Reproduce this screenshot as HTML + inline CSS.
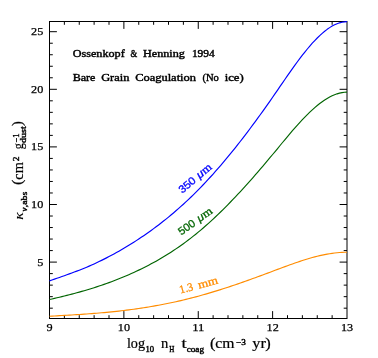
<!DOCTYPE html>
<html><head><meta charset="utf-8"><title>Ossenkopf &amp; Henning 1994 opacities</title>
<style>html,body{margin:0;padding:0;background:#fff;}svg{display:block;will-change:transform;}text{font-family:"Liberation Serif",serif;fill:#000;}.sans{font-family:"Liberation Sans",sans-serif;}</style></head><body>
<svg width="378" height="358" viewBox="0 0 378 358">
<rect x="0" y="0" width="378" height="358" fill="#ffffff"/>
<g stroke="#000" stroke-width="1" fill="none" stroke-linecap="butt">
<rect x="49.50" y="21.50" width="297.50" height="297.00"/>
<path d="M64.37,318.50v-3.30M64.37,21.50v3.30M79.25,318.50v-3.30M79.25,21.50v3.30M94.12,318.50v-3.30M94.12,21.50v3.30M109.00,318.50v-3.30M109.00,21.50v3.30M123.88,318.50v-7.40M123.88,21.50v7.40M138.75,318.50v-3.30M138.75,21.50v3.30M153.63,318.50v-3.30M153.63,21.50v3.30M168.50,318.50v-3.30M168.50,21.50v3.30M183.38,318.50v-3.30M183.38,21.50v3.30M198.25,318.50v-7.40M198.25,21.50v7.40M213.12,318.50v-3.30M213.12,21.50v3.30M228.00,318.50v-3.30M228.00,21.50v3.30M242.87,318.50v-3.30M242.87,21.50v3.30M257.75,318.50v-3.30M257.75,21.50v3.30M272.62,318.50v-7.40M272.62,21.50v7.40M287.50,318.50v-3.30M287.50,21.50v3.30M302.38,318.50v-3.30M302.38,21.50v3.30M317.25,318.50v-3.30M317.25,21.50v3.30M332.13,318.50v-3.30M332.13,21.50v3.30M49.50,308.18h3.30M347.00,308.18h-3.30M49.50,296.66h3.30M347.00,296.66h-3.30M49.50,285.14h3.30M347.00,285.14h-3.30M49.50,273.62h3.30M347.00,273.62h-3.30M49.50,262.10h7.40M347.00,262.10h-7.40M49.50,250.58h3.30M347.00,250.58h-3.30M49.50,239.06h3.30M347.00,239.06h-3.30M49.50,227.54h3.30M347.00,227.54h-3.30M49.50,216.02h3.30M347.00,216.02h-3.30M49.50,204.50h7.40M347.00,204.50h-7.40M49.50,192.98h3.30M347.00,192.98h-3.30M49.50,181.46h3.30M347.00,181.46h-3.30M49.50,169.94h3.30M347.00,169.94h-3.30M49.50,158.42h3.30M347.00,158.42h-3.30M49.50,146.90h7.40M347.00,146.90h-7.40M49.50,135.38h3.30M347.00,135.38h-3.30M49.50,123.86h3.30M347.00,123.86h-3.30M49.50,112.34h3.30M347.00,112.34h-3.30M49.50,100.82h3.30M347.00,100.82h-3.30M49.50,89.30h7.40M347.00,89.30h-7.40M49.50,77.78h3.30M347.00,77.78h-3.30M49.50,66.26h3.30M347.00,66.26h-3.30M49.50,54.74h3.30M347.00,54.74h-3.30M49.50,43.22h3.30M347.00,43.22h-3.30M49.50,31.70h7.40M347.00,31.70h-7.40"/>
</g>
<path d="M49.50,316.24 L51.98,316.10 L54.46,315.97 L56.94,315.83 L59.42,315.68 L61.90,315.54 L64.37,315.40 L66.85,315.25 L69.33,315.10 L71.81,314.95 L74.29,314.80 L76.77,314.64 L79.25,314.47 L81.73,314.31 L84.21,314.14 L86.69,313.96 L89.17,313.78 L91.65,313.59 L94.12,313.40 L96.60,313.20 L99.08,312.99 L101.56,312.78 L104.04,312.56 L106.52,312.33 L109.00,312.09 L111.48,311.85 L113.96,311.59 L116.44,311.33 L118.92,311.06 L121.40,310.78 L123.88,310.48 L126.35,310.18 L128.83,309.87 L131.31,309.54 L133.79,309.21 L136.27,308.86 L138.75,308.50 L141.23,308.13 L143.71,307.75 L146.19,307.36 L148.67,306.95 L151.15,306.54 L153.63,306.11 L156.10,305.67 L158.58,305.22 L161.06,304.75 L163.54,304.27 L166.02,303.78 L168.50,303.28 L170.98,302.76 L173.46,302.23 L175.94,301.69 L178.42,301.14 L180.90,300.57 L183.38,299.99 L185.85,299.39 L188.33,298.78 L190.81,298.16 L193.29,297.52 L195.77,296.87 L198.25,296.20 L200.73,295.52 L203.21,294.82 L205.69,294.12 L208.17,293.39 L210.65,292.66 L213.12,291.91 L215.60,291.15 L218.08,290.38 L220.56,289.60 L223.04,288.81 L225.52,288.00 L228.00,287.19 L230.48,286.37 L232.96,285.53 L235.44,284.69 L237.92,283.84 L240.40,282.98 L242.87,282.12 L245.35,281.24 L247.83,280.36 L250.31,279.48 L252.79,278.58 L255.27,277.68 L257.75,276.78 L260.23,275.87 L262.71,274.95 L265.19,274.04 L267.67,273.11 L270.15,272.19 L272.62,271.26 L275.10,270.33 L277.58,269.40 L280.06,268.47 L282.54,267.54 L285.02,266.62 L287.50,265.71 L289.98,264.81 L292.46,263.92 L294.94,263.05 L297.42,262.20 L299.90,261.36 L302.38,260.55 L304.85,259.76 L307.33,259.00 L309.81,258.27 L312.29,257.56 L314.77,256.90 L317.25,256.26 L319.73,255.67 L322.21,255.11 L324.69,254.60 L327.17,254.13 L329.65,253.71 L332.13,253.33 L334.60,253.01 L337.08,252.74 L339.56,252.53 L342.04,252.38 L344.52,252.28 L347.00,252.25" fill="none" stroke="#ff8c00" stroke-width="1.15" stroke-linejoin="round"/>
<path d="M49.50,299.54 L51.98,298.97 L54.46,298.39 L56.94,297.81 L59.42,297.22 L61.90,296.62 L64.37,296.01 L66.85,295.39 L69.33,294.76 L71.81,294.12 L74.29,293.46 L76.77,292.80 L79.25,292.11 L81.73,291.42 L84.21,290.71 L86.69,289.98 L89.17,289.23 L91.65,288.47 L94.12,287.69 L96.60,286.89 L99.08,286.07 L101.56,285.24 L104.04,284.38 L106.52,283.50 L109.00,282.61 L111.48,281.69 L113.96,280.75 L116.44,279.80 L118.92,278.81 L121.40,277.81 L123.88,276.79 L126.35,275.74 L128.83,274.67 L131.31,273.57 L133.79,272.45 L136.27,271.31 L138.75,270.14 L141.23,268.94 L143.71,267.71 L146.19,266.45 L148.67,265.17 L151.15,263.85 L153.63,262.51 L156.10,261.13 L158.58,259.72 L161.06,258.28 L163.54,256.80 L166.02,255.29 L168.50,253.74 L170.98,252.16 L173.46,250.54 L175.94,248.88 L178.42,247.18 L180.90,245.45 L183.38,243.67 L185.85,241.86 L188.33,240.00 L190.81,238.10 L193.29,236.16 L195.77,234.18 L198.25,232.15 L200.73,230.07 L203.21,227.96 L205.69,225.79 L208.17,223.59 L210.65,221.35 L213.12,219.06 L215.60,216.74 L218.08,214.37 L220.56,211.97 L223.04,209.54 L225.52,207.06 L228.00,204.55 L230.48,202.01 L232.96,199.44 L235.44,196.83 L237.92,194.19 L240.40,191.52 L242.87,188.83 L245.35,186.10 L247.83,183.35 L250.31,180.57 L252.79,177.76 L255.27,174.93 L257.75,172.08 L260.23,169.20 L262.71,166.30 L265.19,163.38 L267.67,160.44 L270.15,157.48 L272.62,154.50 L275.10,151.51 L277.58,148.51 L280.06,145.50 L282.54,142.50 L285.02,139.52 L287.50,136.55 L289.98,133.62 L292.46,130.72 L294.94,127.87 L297.42,125.07 L299.90,122.33 L302.38,119.66 L304.85,117.07 L307.33,114.56 L309.81,112.14 L312.29,109.82 L314.77,107.61 L317.25,105.52 L319.73,103.54 L322.21,101.70 L324.69,100.00 L327.17,98.44 L329.65,97.04 L332.13,95.79 L334.60,94.72 L337.08,93.83 L339.56,93.12 L342.04,92.60 L344.52,92.29 L347.00,92.18" fill="none" stroke="#006400" stroke-width="1.15" stroke-linejoin="round"/>
<path d="M49.50,280.88 L51.98,280.01 L54.46,279.14 L56.94,278.28 L59.42,277.42 L61.90,276.55 L64.37,275.68 L66.85,274.79 L69.33,273.90 L71.81,273.00 L74.29,272.08 L76.77,271.14 L79.25,270.18 L81.73,269.20 L84.21,268.20 L86.69,267.17 L89.17,266.11 L91.65,265.02 L94.12,263.90 L96.60,262.75 L99.08,261.57 L101.56,260.37 L104.04,259.14 L106.52,257.87 L109.00,256.58 L111.48,255.27 L113.96,253.92 L116.44,252.55 L118.92,251.15 L121.40,249.73 L123.88,248.28 L126.35,246.80 L128.83,245.29 L131.31,243.76 L133.79,242.20 L136.27,240.61 L138.75,238.99 L141.23,237.34 L143.71,235.66 L146.19,233.95 L148.67,232.21 L151.15,230.44 L153.63,228.63 L156.10,226.79 L158.58,224.92 L161.06,223.01 L163.54,221.07 L166.02,219.09 L168.50,217.08 L170.98,215.02 L173.46,212.94 L175.94,210.81 L178.42,208.64 L180.90,206.44 L183.38,204.20 L185.85,201.91 L188.33,199.59 L190.81,197.22 L193.29,194.81 L195.77,192.36 L198.25,189.87 L200.73,187.33 L203.21,184.75 L205.69,182.13 L208.17,179.46 L210.65,176.76 L213.12,174.01 L215.60,171.22 L218.08,168.40 L220.56,165.53 L223.04,162.62 L225.52,159.68 L228.00,156.70 L230.48,153.68 L232.96,150.63 L235.44,147.54 L237.92,144.41 L240.40,141.25 L242.87,138.05 L245.35,134.83 L247.83,131.56 L250.31,128.27 L252.79,124.94 L255.27,121.59 L257.75,118.20 L260.23,114.78 L262.71,111.33 L265.19,107.85 L267.67,104.35 L270.15,100.81 L272.62,97.25 L275.10,93.66 L277.58,90.06 L280.06,86.44 L282.54,82.83 L285.02,79.23 L287.50,75.66 L289.98,72.11 L292.46,68.61 L294.94,65.16 L297.42,61.76 L299.90,58.44 L302.38,55.20 L304.85,52.05 L307.33,49.00 L309.81,46.05 L312.29,43.23 L314.77,40.54 L317.25,37.98 L319.73,35.57 L322.21,33.32 L324.69,31.24 L327.17,29.34 L329.65,27.62 L332.13,26.10 L334.60,24.79 L337.08,23.70 L339.56,22.83 L342.04,22.20 L344.52,21.81 L347.00,21.68" fill="none" stroke="#0000ff" stroke-width="1.15" stroke-linejoin="round"/>
<text x="37.20" y="265.55" font-size="11.00" textLength="6.10" lengthAdjust="spacingAndGlyphs" style="stroke:#000;stroke-width:0.25;">5</text>
<text x="31.10" y="207.95" font-size="11.00" textLength="12.20" lengthAdjust="spacingAndGlyphs" style="stroke:#000;stroke-width:0.25;">10</text>
<text x="31.10" y="150.35" font-size="11.00" textLength="12.20" lengthAdjust="spacingAndGlyphs" style="stroke:#000;stroke-width:0.25;">15</text>
<text x="31.10" y="92.75" font-size="11.00" textLength="12.20" lengthAdjust="spacingAndGlyphs" style="stroke:#000;stroke-width:0.25;">20</text>
<text x="31.10" y="35.15" font-size="11.00" textLength="12.20" lengthAdjust="spacingAndGlyphs" style="stroke:#000;stroke-width:0.25;">25</text>
<text x="46.55" y="331.10" font-size="11.00" textLength="6.10" lengthAdjust="spacingAndGlyphs" style="stroke:#000;stroke-width:0.25;">9</text>
<text x="117.88" y="331.10" font-size="11.00" textLength="12.20" lengthAdjust="spacingAndGlyphs" style="stroke:#000;stroke-width:0.25;">10</text>
<text x="192.25" y="331.10" font-size="11.00" textLength="12.20" lengthAdjust="spacingAndGlyphs" style="stroke:#000;stroke-width:0.25;">11</text>
<text x="266.62" y="331.10" font-size="11.00" textLength="12.20" lengthAdjust="spacingAndGlyphs" style="stroke:#000;stroke-width:0.25;">12</text>
<text x="341.00" y="331.10" font-size="11.00" textLength="12.20" lengthAdjust="spacingAndGlyphs" style="stroke:#000;stroke-width:0.25;">13</text>
<text x="72.70" y="57.30" font-size="10.00" textLength="52.00" lengthAdjust="spacingAndGlyphs" style="stroke:#000;stroke-width:0.40;">Ossenkopf</text>
<text x="130.40" y="57.30" font-size="10.00" textLength="6.70" lengthAdjust="spacingAndGlyphs" style="stroke:#000;stroke-width:0.40;">&amp;</text>
<text x="143.00" y="57.30" font-size="10.00" textLength="41.90" lengthAdjust="spacingAndGlyphs" style="stroke:#000;stroke-width:0.40;">Henning</text>
<text x="191.90" y="57.30" font-size="10.00" textLength="22.90" lengthAdjust="spacingAndGlyphs" style="stroke:#000;stroke-width:0.40;">1994</text>
<text x="72.70" y="80.90" font-size="10.00" textLength="22.80" lengthAdjust="spacingAndGlyphs" style="stroke:#000;stroke-width:0.40;">Bare</text>
<text x="101.20" y="80.90" font-size="10.00" textLength="28.20" lengthAdjust="spacingAndGlyphs" style="stroke:#000;stroke-width:0.40;">Grain</text>
<text x="135.20" y="80.90" font-size="10.00" textLength="60.80" lengthAdjust="spacingAndGlyphs" style="stroke:#000;stroke-width:0.40;">Coagulation</text>
<text x="202.40" y="80.90" font-size="10.00" textLength="16.40" lengthAdjust="spacingAndGlyphs" style="stroke:#000;stroke-width:0.40;">(No</text>
<text x="224.70" y="80.90" font-size="10.00" textLength="19.10" lengthAdjust="spacingAndGlyphs" style="stroke:#000;stroke-width:0.40;">ice)</text>
<text x="126.90" y="348.40" font-size="14.00" textLength="18.10" lengthAdjust="spacingAndGlyphs" style="stroke:#000;stroke-width:0.20;">log</text>
<text x="145.50" y="351.50" font-size="7.60" textLength="8.60" lengthAdjust="spacingAndGlyphs" style="stroke:#000;stroke-width:0.40;">10</text>
<text x="161.10" y="348.40" font-size="14.00" textLength="7.30" lengthAdjust="spacingAndGlyphs" style="stroke:#000;stroke-width:0.20;">n</text>
<text x="169.20" y="351.50" font-size="7.60" textLength="5.10" lengthAdjust="spacingAndGlyphs" style="stroke:#000;stroke-width:0.40;">H</text>
<text x="181.40" y="348.40" font-size="14.00" textLength="5.20" lengthAdjust="spacingAndGlyphs" style="stroke:#000;stroke-width:0.20;">t</text>
<text x="186.70" y="351.50" font-size="7.60" textLength="17.30" lengthAdjust="spacingAndGlyphs" style="stroke:#000;stroke-width:0.40;">coag</text>
<text x="210.10" y="347.90" font-size="14.00" textLength="5.50" lengthAdjust="spacingAndGlyphs" style="stroke:#000;stroke-width:0.20;">(</text>
<text x="215.30" y="348.40" font-size="14.00" textLength="19.20" lengthAdjust="spacingAndGlyphs" style="stroke:#000;stroke-width:0.20;">cm</text>
<text x="236.00" y="345.30" font-size="7.60" textLength="9.80" lengthAdjust="spacingAndGlyphs" style="stroke:#000;stroke-width:0.40;">−3</text>
<text x="252.30" y="348.40" font-size="14.00" textLength="13.60" lengthAdjust="spacingAndGlyphs" style="stroke:#000;stroke-width:0.20;">yr</text>
<text x="265.20" y="347.90" font-size="14.00" textLength="5.50" lengthAdjust="spacingAndGlyphs" style="stroke:#000;stroke-width:0.20;">)</text>
<g transform="translate(22.8,220) rotate(-90)">
<text x="0.30" y="0.40" font-size="13.50" textLength="7.60" lengthAdjust="spacingAndGlyphs" font-style="italic" style="stroke:#000;stroke-width:0.10;">κ</text>
<text x="8.60" y="4.30" font-size="7.60" textLength="4.00" lengthAdjust="spacingAndGlyphs" font-style="italic" style="stroke:#000;stroke-width:0.40;">ν</text>
<text x="12.80" y="4.30" font-size="7.60" textLength="15.40" lengthAdjust="spacingAndGlyphs" style="stroke:#000;stroke-width:0.40;">,abs</text>
<text x="34.90" y="-0.50" font-size="14.00" textLength="5.50" lengthAdjust="spacingAndGlyphs" style="stroke:#000;stroke-width:0.20;">(</text>
<text x="40.30" y="0.00" font-size="14.00" textLength="17.50" lengthAdjust="spacingAndGlyphs" style="stroke:#000;stroke-width:0.20;">cm</text>
<text x="58.80" y="-3.40" font-size="8.00" textLength="4.70" lengthAdjust="spacingAndGlyphs" style="stroke:#000;stroke-width:0.40;">2</text>
<text x="70.70" y="0.00" font-size="14.00" textLength="6.10" lengthAdjust="spacingAndGlyphs" style="stroke:#000;stroke-width:0.20;">g</text>
<text x="77.60" y="-4.20" font-size="7.60" textLength="9.00" lengthAdjust="spacingAndGlyphs" style="stroke:#000;stroke-width:0.40;">−1</text>
<text x="77.10" y="3.40" font-size="8.00" textLength="16.70" lengthAdjust="spacingAndGlyphs" style="stroke:#000;stroke-width:0.40;">dust</text>
<text x="93.80" y="-0.50" font-size="14.00" textLength="5.20" lengthAdjust="spacingAndGlyphs" style="stroke:#000;stroke-width:0.20;">)</text>
</g>
<g transform="translate(182.2,193.8) rotate(-40.0)">
<text x="0.00" y="0.00" font-size="10.70" textLength="18.90" lengthAdjust="spacingAndGlyphs" style="fill:#0000ff;stroke:#0000ff;stroke-width:0.30;" class="sans">350</text>
<text x="23.00" y="0.00" font-size="10.70" textLength="6.60" lengthAdjust="spacingAndGlyphs" font-style="italic" style="fill:#0000ff;stroke:#0000ff;stroke-width:0.30;" class="sans">μ</text>
<text x="29.90" y="0.00" font-size="11.50" textLength="9.90" lengthAdjust="spacingAndGlyphs" style="fill:#0000ff;stroke:#0000ff;stroke-width:0.30;">m</text>
</g>
<g transform="translate(181.2,235.5) rotate(-35.5)">
<text x="0.00" y="0.00" font-size="10.70" textLength="18.40" lengthAdjust="spacingAndGlyphs" style="fill:#006400;stroke:#006400;stroke-width:0.30;" class="sans">500</text>
<text x="22.90" y="0.00" font-size="10.70" textLength="6.50" lengthAdjust="spacingAndGlyphs" font-style="italic" style="fill:#006400;stroke:#006400;stroke-width:0.30;" class="sans">μ</text>
<text x="29.70" y="0.00" font-size="11.50" textLength="9.80" lengthAdjust="spacingAndGlyphs" style="fill:#006400;stroke:#006400;stroke-width:0.30;">m</text>
</g>
<g transform="translate(180.6,293.6) rotate(-15.0)">
<text x="0.00" y="0.00" font-size="11.50" textLength="13.70" lengthAdjust="spacingAndGlyphs" style="fill:#ff8c00;stroke:#ff8c00;stroke-width:0.30;">1.3</text>
<text x="19.00" y="0.00" font-size="11.50" textLength="20.30" lengthAdjust="spacingAndGlyphs" style="fill:#ff8c00;stroke:#ff8c00;stroke-width:0.30;">mm</text>
</g>
</svg></body></html>
